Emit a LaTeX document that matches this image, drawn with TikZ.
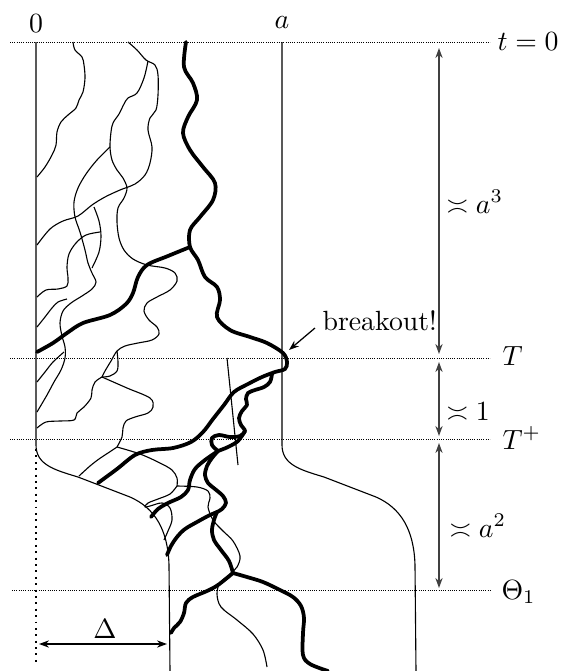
\documentclass[tikz,border=0pt]{standalone}
\usetikzlibrary{arrows.meta}
\begin{document}
\begin{tikzpicture}[x=0.36pt,y=-0.36pt,
  thinc/.style={line width=0.4pt, line join=round},
  thickc/.style={line width=1.35pt, line cap=round, line join=round},
  guide/.style={line width=0.35pt, dash pattern=on 0.35pt off 0.45pt},
  vguide/.style={line width=0.7pt, dash pattern=on 0.7pt off 1.6pt},
  dim/.style={line width=0.45pt, black!75, {Stealth[length=3.6pt,width=2.6pt]}-{Stealth[length=3.6pt,width=2.6pt]}},
  lab/.style={inner sep=0pt, anchor=base west},
  labc/.style={inner sep=0pt, anchor=base}]
\useasboundingbox (0,0) rectangle (566,671);

% horizontal guides
\coordinate (h0l) at (10,42);  \coordinate (h0r) at (490,42);
\coordinate (h1l) at (10,358); \coordinate (h1r) at (490,358);
\coordinate (h2l) at (10,439); \coordinate (h2r) at (490,439);
\coordinate (h3l) at (12,590); \coordinate (h3r) at (490,590);
\draw[guide] (h0l) -- (h0r);
\draw[guide] (h1l) -- (h1r);
\draw[guide] (h2l) -- (h2r);
\draw[guide] (h3l) -- (h3r);

% walls
\coordinate (lw0) at (36,42);
\coordinate (rw0) at (282,42);
\draw[thinc] (lw0) -- (36,445) .. controls (36,465) and (55,470) .. (78,477)
   -- (130,497) .. controls (155,508) and (168,530) .. (169,565) -- (170,671);
\draw[thinc] (rw0) -- (282,445) .. controls (282,465) and (301,470) .. (324,477)
   -- (376,497) .. controls (401,508) and (414,530) .. (415,565) -- (416,671);
\coordinate (vd0) at (36,449); \coordinate (vd1) at (36,664);
\draw[vguide] (vd0) -- (vd1);

% thin curves
\draw[thinc] plot[smooth, tension=0.55] coordinates {(73,42) (75,50) (82,57) (84,65) (85,78) (83,92) (79,100) (76,108) (68,115) (61,122) (57,132) (56,145) (52,155) (45,167) (37,177)};
\draw[thinc] plot[smooth, tension=0.55] coordinates {(128,42) (137,50) (146,60) (155,65) (158,75) (158,95) (156,110) (150,118) (148,130) (152,147) (150,163) (145,175) (135,184) (120,190) (105,197) (92,205) (78,216) (63,221) (50,229) (37,245)};
\draw[thinc] plot[smooth, tension=0.55] coordinates {(148,61) (144,78) (137,93) (128,98) (124,104) (119,114) (113,123) (111,132) (110,147) (112,160) (117,170) (123,178) (127,188) (124,198) (118,208) (117,222) (119,238) (124,250) (133,259) (147,265) (165,268) (175,273) (177,281) (170,290) (157,297) (147,303) (144,311) (149,320) (157,327) (159,334) (152,340) (138,343) (125,346) (117,351) (111,361) (105,371) (102,377)};
\draw[thinc] plot[smooth, tension=0.55] coordinates {(117,351) (118,362) (117,371) (110,376) (102,377)};
\draw[thinc] plot[smooth, tension=0.55] coordinates {(110,147) (97,160) (86,174) (78,188) (74,202) (75,217) (80,232) (85,250) (88,263) (92,273) (96,282) (92,289) (82,296) (71,303) (63,311) (60,323) (62,336) (65,347) (65,358) (61,370) (54,382) (47,395) (37,412)};
\draw[thinc] plot[smooth, tension=0.55] coordinates {(37,382) (45,372) (53,362) (64,352)};
\draw[thinc] plot[smooth, tension=0.55] coordinates {(94,207) (99,221) (101,236) (99,252) (92,268)};
\draw[thinc] plot[smooth, tension=0.55] coordinates {(37,297) (46,290) (58,289) (67,286) (68,278) (67,267) (69,254) (76,243) (86,235) (100,232)};
\draw[thinc] plot[smooth, tension=0.55] coordinates {(37,327) (45,317) (52,308) (58,302) (67,299)};
\draw[thinc] plot[smooth, tension=0.55] coordinates {(102,377) (95,382) (92,390) (91,398) (84,407) (77,413) (74,420) (60,421) (46,422) (37,428)};
\draw[thinc] plot[smooth, tension=0.55] coordinates {(102,377) (127,388) (150,398) (153,407) (148,413) (135,417) (126,421) (123,428) (122,437) (117,447)};
\draw[thinc] plot[smooth, tension=0.55] coordinates {(117,447) (108,453) (99,459) (90,466) (79,476)};
\draw[thinc] plot[smooth, tension=0.55] coordinates {(117,447) (140,454) (160,463) (172,470) (177,478) (177,486)};
\draw[thinc] plot[smooth, tension=0.55] coordinates {(177,486) (170,494) (158,499) (148,503) (145,507) (150,506) (162,503) (170,508) (172,520) (168,531) (164,540)};
\draw[thinc] plot[smooth, tension=0.55] coordinates {(177,486) (197,487) (208,491) (210,498) (208,507) (213,520) (223,531) (233,541) (240,556) (237,567) (230,574) (220,583) (217,594) (221,607) (237,620) (253,634) (263,650) (267,667)};
\coordinate (s0) at (227,358); \coordinate (s1) at (238,465);
\draw[thinc] (s0) -- (s1);

% thick curves
\draw[thickc] plot[smooth, tension=0.55] coordinates {(186,42) (184,67) (193,83) (197,100) (188,117) (183,133) (190,150) (203,167) (215,183) (213,200) (200,217) (190,230) (190,247) (198,260) (205,277) (217,287) (220,300) (217,317) (230,330) (250,337) (267,343) (283,353) (287,362) (285,369) (275,372) (262,377) (248,384) (234,392) (224,405) (213,419) (203,432) (191,442) (173,448) (152,450) (135,455) (117,469) (98,483)};
\draw[thickc] plot[smooth, tension=0.55] coordinates {(190,247) (168,256) (147,265) (138,277) (133,293) (126,304) (110,315) (83,323) (67,333) (53,343) (37,352)};
\draw[thickc] plot[smooth, tension=0.55] coordinates {(272,374) (270,382) (264,387) (255,390) (248,393) (246,399) (247,405) (242,411) (239,418) (241,425) (245,431) (240,436) (230,437) (219,435) (212,438) (212,445) (218,451)};
\draw[thickc] plot[smooth, tension=0.55] coordinates {(245,431) (238,441) (228,447) (218,451)};
\draw[thickc] plot[smooth, tension=0.55] coordinates {(218,451) (205,460) (195,469) (190,480) (188,490) (181,497) (168,503) (158,509) (151,517)};
\draw[thickc] plot[smooth, tension=0.55] coordinates {(218,451) (212,458) (207,466) (205,475) (208,483) (215,489) (223,496) (226,503) (222,509) (217,512)};
\draw[thickc] plot[smooth, tension=0.55] coordinates {(217,512) (208,516) (197,522) (185,529) (177,537) (171,546) (167,555)};
\draw[thickc] plot[smooth, tension=0.55] coordinates {(217,512) (214,520) (212,530) (214,540) (221,550) (229,561) (233,573)};
\draw[thickc] plot[smooth, tension=0.55] coordinates {(233,573) (247,577) (263,582) (280,590) (293,597) (301,606) (304,618) (303,633) (303,655) (310,664) (328,671)};
\draw[thickc] plot[smooth, tension=0.55] coordinates {(233,573) (218,585) (207,591) (193,597) (186,603) (184,613) (180,622) (174,628) (171,633)};

% labels
\node[labc] (l0) at (36,32) {$0$};
\node[labc] (la) at (282,28) {$a$};
\node[lab] (lt0) at (497,50) {$t=0$};
\node[lab] (lT) at (502,365) {$T$};
\node[lab] (lTp) at (502,449) {$T^{+}$};
\node[lab] (lTh) at (501,599) {$\Theta_1$};
\node[lab] (la3) at (446,213) {$\asymp a^3$};
\node[lab] (l1) at (446,420) {$\asymp 1$};
\node[lab] (la2) at (449,537) {$\asymp a^2$};
\node[lab] (lbr) at (322,330) {breakout!};
\node[labc] (lD) at (105,638) {$\Delta$};

% dimension arrows
\coordinate (d1a) at (439,48);  \coordinate (d1b) at (439,354);
\coordinate (d2a) at (439,362); \coordinate (d2b) at (439,436);
\coordinate (d3a) at (439,443); \coordinate (d3b) at (439,588);
\draw[dim] (d1a) -- (d1b);
\draw[dim] (d2a) -- (d2b);
\draw[dim] (d3a) -- (d3b);
\coordinate (dl) at (39,644); \coordinate (dr) at (167,644);
\draw[line width=0.45pt, {Stealth[length=3.6pt,width=2.6pt]}-{Stealth[length=3.6pt,width=2.6pt]}] (dl) -- (dr);
\coordinate (bk0) at (315,328); \coordinate (bk1) at (289,350);
\draw[line width=0.45pt, -{Stealth[length=3.6pt,width=2.6pt]}] (bk0) -- (bk1);
\end{tikzpicture}
\end{document}
